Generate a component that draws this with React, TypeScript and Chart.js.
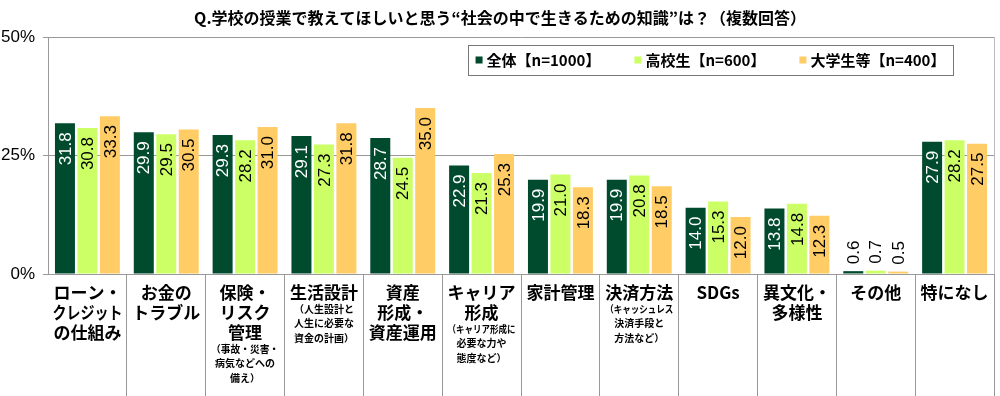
import React, { useEffect, useRef } from "react";
import { Chart, registerables } from "chart.js";

Chart.register(...registerables);

const titleText = "Q.学校の授業で教えてほしいと思う“社会の中で生きるための知識”は？（複数回答）";

const categoryMain: string[][] = [
  ["ローン・", "クレジット", "の仕組み"],
  ["お金の", "トラブル"],
  ["保険・", "リスク", "管理"],
  ["生活設計"],
  ["資産", "形成・", "資産運用"],
  ["キャリア", "形成"],
  ["家計管理"],
  ["決済方法"],
  ["SDGs"],
  ["異文化・", "多様性"],
  ["その他"],
  ["特になし"],
];

const categorySub: string[][] = [
  [],
  [],
  ["（事故・災害・", "病気などへの", "備え）"],
  ["（人生設計と", "人生に必要な", "資金の計画）"],
  [],
  ["（キャリア形成に", "必要な力や", "態度など）"],
  [],
  ["（キャッシュレス", "決済手段と", "方法など）"],
  [],
  [],
  [],
  [],
];

const seriesNames = ["全体【n=1000】", "高校生【n=600】", "大学生等【n=400】"];
const totalValues = [31.8, 29.9, 29.3, 29.1, 28.7, 22.9, 19.9, 19.9, 14.0, 13.8, 0.6, 27.9];
const highSchoolValues = [30.8, 29.5, 28.2, 27.3, 24.5, 21.3, 21.0, 20.8, 15.3, 14.8, 0.7, 28.2];
const universityValues = [33.3, 30.5, 31.0, 31.8, 35.0, 25.3, 18.3, 18.5, 12.0, 12.3, 0.5, 27.5];
const yTicks = [0, 25, 50];

const colors = ["#004A2E", "#CCFF66", "#FFCC66"];
const labelColors = ["#FFFFFF", "#000000", "#000000"];

const JP = '"Noto Sans CJK JP", "Noto Sans", sans-serif';

const overlayPlugin = {
  id: "overlay",
  afterDatasetsDraw(chart: any) {
    const ctx = chart.ctx as CanvasRenderingContext2D;
    const area = chart.chartArea;
    ctx.save();
    // frame right edge
    ctx.strokeStyle = "#BBBBBB";
    ctx.lineWidth = 1;
    ctx.beginPath();
    ctx.moveTo(Math.round(area.right) + 0.5, area.top);
    ctx.lineTo(Math.round(area.right) + 0.5, area.bottom);
    ctx.stroke();

    // data labels
    ctx.font = '17px "Liberation Sans", Arial, sans-serif';
    ctx.textBaseline = "middle";
    chart.data.datasets.forEach((ds: any, di: number) => {
      const meta = chart.getDatasetMeta(di);
      meta.data.forEach((bar: any, i: number) => {
        const v = ds.data[i];
        const txt = v.toFixed(1);
        const w = ctx.measureText(txt).width;
        const h = bar.base - bar.y;
        ctx.save();
        ctx.translate(bar.x, bar.y);
        ctx.rotate(-Math.PI / 2);
        if (h > w + 14) {
          ctx.fillStyle = labelColors[di];
          ctx.textAlign = "right";
          ctx.fillText(txt, -9, 1);
        } else {
          ctx.fillStyle = "#000000";
          ctx.textAlign = "left";
          ctx.fillText(txt, 7, 1);
        }
        ctx.restore();
      });
    });

    // legend box
    const bx = 468, by = 45, bw = 485, bh = 30;
    ctx.fillStyle = "#FFFFFF";
    ctx.fillRect(bx, by, bw, bh);
    ctx.strokeStyle = "#777777";
    ctx.strokeRect(bx + 0.5, by + 0.5, bw, bh);
    ctx.font = `bold 15px ${JP}`;
    ctx.textAlign = "left";
    ctx.textBaseline = "middle";
    const marker = 7, mgap = 4, igap = 34;
    const widths = seriesNames.map((s) => ctx.measureText(s).width);
    const total = widths.reduce((a, b) => a + b + marker + mgap, 0) + igap * (seriesNames.length - 1);
    let lx = bx + (bw - total) / 2;
    const ly = by + bh / 2;
    seriesNames.forEach((s, i) => {
      ctx.fillStyle = colors[i];
      ctx.fillRect(lx, ly - marker / 2, marker, marker);
      lx += marker + mgap;
      ctx.fillStyle = "#000000";
      ctx.fillText(s, lx, ly);
      lx += widths[i] + igap;
    });

    // title
    ctx.font = `bold 16px ${JP}`;
    ctx.textAlign = "center";
    ctx.fillStyle = "#000000";
    ctx.fillText(titleText, chart.width / 2, 18);

    // category labels
    const xs = chart.scales.x;
    categoryMain.forEach((lines, i) => {
      const cx = xs.getPixelForValue(i);
      let y = area.bottom + 19;
      ctx.font = `bold 17px ${JP}`;
      ctx.fillStyle = "#000000";
      lines.forEach((ln, k) => {
        if (k > 0) y += 20;
        ctx.fillText(ln, cx, y, 70);
      });
      const subs = categorySub[i];
      if (subs.length) {
        ctx.font = `bold 10px ${JP}`;
        y += 16;
        subs.forEach((ln, k) => {
          if (k > 0) y += 14.5;
          ctx.fillText(ln, cx, y, 68);
        });
      }
    });
    ctx.restore();
  },
};

export default function App() {
  const ref = useRef<HTMLCanvasElement | null>(null);
  useEffect(() => {
    if (!ref.current) return;
    const chart = new Chart(ref.current, {
      type: "bar",
      data: {
        labels: categoryMain.map((l) => l.join("")),
        datasets: [
          { label: seriesNames[0], data: totalValues, backgroundColor: colors[0] },
          { label: seriesNames[1], data: highSchoolValues, backgroundColor: colors[1] },
          { label: seriesNames[2], data: universityValues, backgroundColor: colors[2] },
        ].map((d) => ({ ...d, barPercentage: 0.89, categoryPercentage: 0.855, borderWidth: 0 })),
      },
      options: {
        animation: false,
        responsive: false,
        devicePixelRatio: 1,
        layout: { padding: { top: 37, right: 6, left: 0, bottom: 0 } },
        plugins: { legend: { display: false }, title: { display: false }, tooltip: { enabled: false } },
        scales: {
          x: {
            type: "category",
            offset: true,
            grid: {
              offset: true,
              drawOnChartArea: false,
              drawTicks: true,
              tickLength: 122,
              color: "#999999",
              tickColor: (c: any) => (c.index === 0 || c.index === categoryMain.length ? "rgba(0,0,0,0)" : "#999999"),
            },
            border: { color: "#999999" },
            ticks: { display: false },
            afterFit: (s: any) => {
              s.height = 122;
            },
          },
          y: {
            min: 0,
            max: 50,
            afterBuildTicks: (s: any) => {
              s.ticks = yTicks.map((v) => ({ value: v }));
            },
            ticks: {
              callback: (v: any) => `${v}%`,
              font: { family: '"Liberation Sans", Arial, sans-serif', size: 17 },
              color: "#000000",
              padding: 8,
            },
            grid: { color: "#999999", tickLength: 5 },
            border: { color: "#999999" },
            afterFit: (s: any) => {
              s.width = 48;
            },
          },
        },
      },
      plugins: [overlayPlugin],
    });
    return () => chart.destroy();
  }, []);
  return (
    <div style={{ position: "absolute", left: 0, top: 0, width: 1000, height: 396, background: "#fff" }}>
      <canvas ref={ref} width={1000} height={396} />
    </div>
  );
}
